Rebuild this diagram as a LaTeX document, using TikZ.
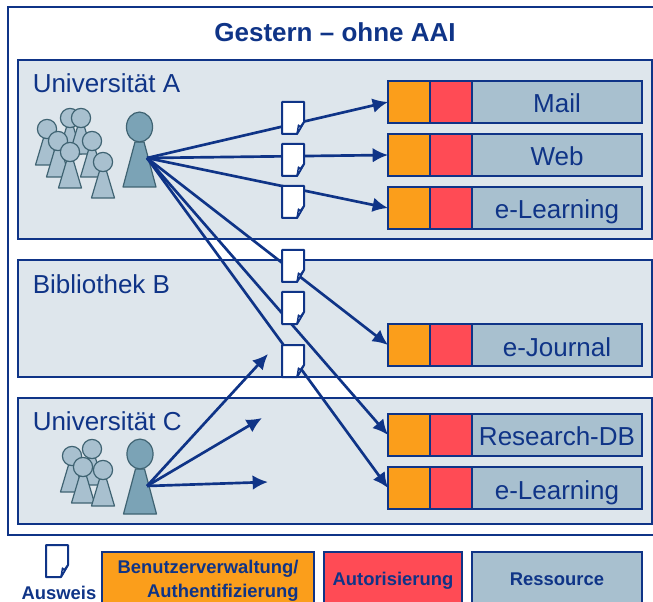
\documentclass[tikz,border=0pt]{standalone}
\usepackage{fontspec}
\setmainfont{Liberation Sans}
\usetikzlibrary{arrows.meta}
\definecolor{navy}{HTML}{0F3487}
\definecolor{panelc}{HTML}{DEE6EC}
\definecolor{resc}{HTML}{A8C0CF}
\definecolor{orangec}{HTML}{FB9E1B}
\definecolor{redc}{HTML}{FF4B55}
\definecolor{bigp}{HTML}{7BA3B6}
\definecolor{pline}{HTML}{3F6372}
\tikzset{
  x=0.75pt,y=-0.75pt,
  frame/.style={draw=navy,line width=1.2pt},
  panel/.style={draw=navy,fill=panelc,line width=1.1pt},
  cell/.style={draw=navy,line width=1.4pt,inner sep=0pt,outer sep=0pt,minimum height=31.5pt},
  orangecell/.style={cell,fill=orangec,minimum width=31.5pt},
  redcell/.style={cell,fill=redc,minimum width=31.5pt},
  rescell/.style={cell,fill=resc,minimum width=127.5pt},
  biglabel/.style={text=navy,font=\fontsize{19.5}{23}\selectfont,inner sep=0pt},
  leglabel/.style={text=navy,font=\fontsize{13.8}{18}\selectfont\bfseries,inner sep=0pt},
  conn/.style={draw=navy,line width=2pt,-{Latex[length=11.5pt,width=11pt]}},
  doc/.style={draw=navy,fill=white,line width=1.5pt,line join=round},
  small/.style={draw=pline,fill=resc,line width=0.9pt,line join=round},
  large/.style={draw=pline,fill=bigp,line width=0.9pt,line join=round},
}
\newcommand{\smallperson}[2]{%
  \draw[small] (#1-3.5,#2+9) -- (#1+3.5,#2+9) -- (#1+11.5,#2+36) -- (#1-11.5,#2+36) -- cycle;
  \draw[small] (#1,#2) circle[radius=7.2pt];}
\newcommand{\largeperson}[2]{%
  \draw[large] (#1-4.5,#2+15) -- (#1+4.5,#2+15) -- (#1+16.5,#2+60) -- (#1-16.5,#2+60) -- cycle;
  \draw[large] (#1,#2) ellipse[x radius=9.8pt,y radius=11.2pt];}
\newcommand{\docicon}[3]{%
  \node[inner sep=0pt,outer sep=0pt,minimum width=16.5pt,minimum height=24pt] (#1) at (#2+11,#3+16) {};
  \draw[doc] (#2,#3) -- (#2+22,#3) -- (#2+22,#3+20) -- (#2+15,#3+32) -- (#2,#3+32) -- cycle;
  \draw[draw=navy,fill=resc!40,line width=1.1pt,line join=round] (#2+15,#3+32) -- (#2+16.5,#3+23) -- (#2+18,#3+25) -- (#2+22,#3+20) -- cycle;}
\newcommand{\resrow}[4]{%
  \node[orangecell] (#1o) at (409,#2+21) {};
  \node[redcell] (#1r) at (451.25,#2+21) {};
  \node[rescell] (#1s) at (557.25,#2+21) {};
  \node[biglabel,anchor=base] (#1t) at (557,#4) {#3};}
\begin{document}
\begin{tikzpicture}
\useasboundingbox (0,0) rectangle (653,602);
\clip (0,0) rectangle (653,602);
\draw[frame] (8,7) rectangle (670,535);
\node[text=navy,font=\fontsize{19.5}{23}\selectfont\bfseries,inner sep=0pt,anchor=base] (title) at (335,42) {Gestern – ohne AAI};
\draw[panel] (18,60) rectangle (652,239);
\draw[panel] (18,260) rectangle (652,377);
\draw[panel] (18,398) rectangle (652,524);
\node[biglabel,anchor=base west] (ua) at (32.5,93) {Universität A};
\node[biglabel,anchor=base west] (bb) at (32.5,293) {Bibliothek B};
\node[biglabel,anchor=base west] (uc) at (32.5,430) {Universität C};
\smallperson{70}{118}\smallperson{81}{118}\smallperson{47}{129}\smallperson{58}{141}\smallperson{92}{141}\smallperson{70}{152}\smallperson{103}{162}
\largeperson{139.5}{127}
\smallperson{92}{449}\smallperson{72}{456}\smallperson{83}{467}\smallperson{103}{470}
\largeperson{140}{454}
\resrow{mail}{81}{Mail}{113}
\resrow{web}{134}{Web}{166}
\resrow{ela}{187}{e-Learning}{219}
\resrow{jou}{324}{e-Journal}{356}
\resrow{res}{414}{Research-DB}{445}
\resrow{elc}{467}{e-Learning}{499}
\coordinate (srcA) at (147,158);
\coordinate (srcC) at (147,486);
\coordinate (freeA) at (268,354);
\coordinate (freeB) at (262,418);
\coordinate (freeC) at (268,482);
\foreach \t in {mailo,webo,elao,jouo,reso,elco}
  \draw[conn] (srcA) -- (\t.west);
\foreach \t in {freeA,freeB,freeC}
  \draw[conn] (srcC) -- (\t);
\docicon{d1}{282}{102}
\docicon{d2}{282}{144}
\docicon{d3}{282}{186}
\docicon{d4}{282}{250}
\docicon{d5}{282}{292}
\docicon{d6}{282}{345}
\docicon{d7}{46}{545}
\node[leglabel,anchor=base] (aus) at (59,599) {Ausweis};
\node[draw=navy,fill=orangec,line width=1.4pt,inner sep=0pt,outer sep=0pt,minimum width=159pt,minimum height=48pt,anchor=north west] (l1) at (102,552) {};
\node[draw=navy,fill=redc,line width=1.4pt,inner sep=0pt,outer sep=0pt,minimum width=103.5pt,minimum height=48pt,anchor=north west] (l2) at (324,552) {};
\node[draw=navy,fill=resc,line width=1.4pt,inner sep=0pt,outer sep=0pt,minimum width=127.5pt,minimum height=48pt,anchor=north west] (l3) at (472,552) {};
\node[leglabel,align=right] (t1) at (208,581) {Benutzerverwaltung/\\Authentifizierung};
\node[leglabel,anchor=base] (t2) at (393,585) {Autorisierung};
\node[leglabel,anchor=base] (t3) at (557,585) {Ressource};
\end{tikzpicture}
\end{document}
